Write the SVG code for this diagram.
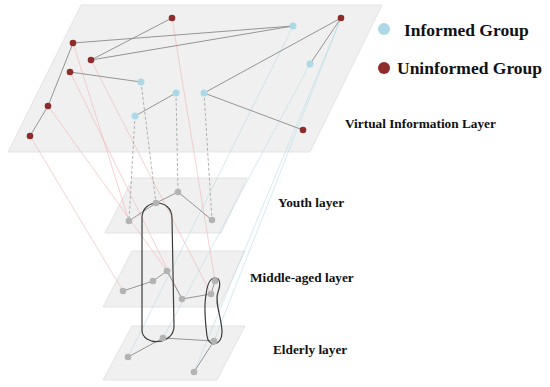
<svg xmlns="http://www.w3.org/2000/svg" width="550" height="387" viewBox="0 0 550 387">
<style>
.plane{fill:#f0f0f0;stroke:#dedede;stroke-width:0.8}
.edge{stroke:#8a8a8a;stroke-width:0.9;fill:none}
.dash{stroke:#a0a0a0;stroke-width:0.8;stroke-dasharray:3,2;fill:none}
.pink{stroke:#f2b4b4;stroke-width:0.6;fill:none}
.blue{stroke:#b5dde9;stroke-width:0.6;fill:none}
.loop{stroke:#3c3c3c;stroke-width:1.2;fill:none}
.red{fill:#8e2b2b}
.inf{fill:#add8e6}
.gray{fill:#b3b3b3}
.lbl{font-family:"Liberation Serif","Times New Roman",serif;font-weight:bold;fill:#111}
</style>
<g id="planes">
<polygon id="layer-virtual" class="plane" points="81,5 382,5 310,152 8,152"/>
<polygon id="layer-youth" class="plane" points="133,178 247,178 221,233 105,233"/>
<polygon id="layer-middle" class="plane" points="132,251 245,251 219,307 103,307"/>
<polygon id="layer-elderly" class="plane" points="132,326 245,326 217,380 103,380"/>
</g>
<g id="connectors">
<g id="interlayer">
<line class="pink" x1="30" y1="136" x2="123" y2="291"/>
<line class="pink" x1="48" y1="106" x2="167" y2="271"/>
<line class="pink" x1="70" y1="72" x2="182" y2="299"/>
<line class="pink" x1="73" y1="43" x2="129" y2="221"/>
<line class="pink" x1="91" y1="60" x2="211" y2="294"/>
<line class="pink" x1="172" y1="18" x2="215" y2="281"/>
<line class="blue" x1="293" y1="26" x2="128" y2="357"/>
<line class="blue" x1="310" y1="64" x2="163" y2="338"/>
<line class="blue" x1="341" y1="18" x2="194" y2="372"/>
<line class="blue" x1="341" y1="18" x2="214" y2="341"/>
<line class="dash" x1="135" y1="116" x2="129" y2="221"/>
<line class="dash" x1="141" y1="82" x2="156" y2="203"/>
<line class="dash" x1="176" y1="93" x2="178" y2="192"/>
<line class="dash" x1="204" y1="93" x2="212" y2="220"/>
</g>
<g id="virtual-edges">
<line class="edge" x1="73" y1="43" x2="293" y2="26"/>
<line class="edge" x1="91" y1="60" x2="172" y2="18"/>
<line class="edge" x1="91" y1="60" x2="293" y2="26"/>
<line class="edge" x1="73" y1="43" x2="48" y2="106"/>
<line class="edge" x1="48" y1="106" x2="30" y2="136"/>
<line class="edge" x1="70" y1="72" x2="141" y2="82"/>
<line class="edge" x1="135" y1="116" x2="176" y2="93"/>
<line class="edge" x1="204" y1="93" x2="341" y2="18"/>
<line class="edge" x1="341" y1="18" x2="310" y2="64"/>
<line class="edge" x1="204" y1="93" x2="303" y2="130"/>
</g>
<g id="youth-edges">
<polyline class="edge" points="129,221 156,203 178,192 212,220"/>
</g>
<g id="middle-edges">
<polyline class="edge" points="123,291 153,281 167,271 182,299 211,294 215,281"/>
</g>
<g id="elderly-edges">
<line class="edge" x1="163" y1="338" x2="128" y2="357"/>
<line class="edge" x1="163" y1="338" x2="214" y2="341"/>
<line class="edge" x1="214" y1="341" x2="194" y2="372"/>
</g>
</g>
<g id="groups">
<path id="loop-large" class="loop" d="M142,330 L142,218 C142,198 172,198 172,218 L174,326 C174,346 142,346 142,330 Z"/>
<path id="loop-small" class="loop" d="M215,278 C220,278 221,284 218,292 C214,302 222,318 222,332 C222,347 208,347 207,336 C205,320 204,305 206,295 C207,286 210,278 215,278 Z"/>
</g>
<g id="nodes-virtual">
<circle class="red" cx="172" cy="18" r="3.3"/>
<circle class="red" cx="73" cy="43" r="3.3"/>
<circle class="red" cx="91" cy="60" r="3.3"/>
<circle class="red" cx="70" cy="72" r="3.3"/>
<circle class="red" cx="48" cy="106" r="3.3"/>
<circle class="red" cx="30" cy="136" r="3.3"/>
<circle class="red" cx="341" cy="18" r="3.3"/>
<circle class="red" cx="303" cy="130" r="3.3"/>
<circle class="inf" cx="141" cy="82" r="3.5"/>
<circle class="inf" cx="176" cy="93" r="3.5"/>
<circle class="inf" cx="135" cy="116" r="3.5"/>
<circle class="inf" cx="293" cy="26" r="3.5"/>
<circle class="inf" cx="310" cy="64" r="3.5"/>
<circle class="inf" cx="204" cy="93" r="3.5"/>
</g>
<g id="nodes-youth">
<circle class="gray" cx="129" cy="221" r="3.3"/>
<circle class="gray" cx="156" cy="203" r="3.3"/>
<circle class="gray" cx="178" cy="192" r="3.3"/>
<circle class="gray" cx="212" cy="220" r="3.3"/>
</g>
<g id="nodes-middle">
<circle class="gray" cx="123" cy="291" r="3.3"/>
<circle class="gray" cx="153" cy="281" r="3.3"/>
<circle class="gray" cx="167" cy="271" r="3.3"/>
<circle class="gray" cx="182" cy="299" r="3.3"/>
<circle class="gray" cx="211" cy="294" r="3.3"/>
<circle class="gray" cx="215" cy="281" r="3.3"/>
</g>
<g id="nodes-elderly">
<circle class="gray" cx="163" cy="338" r="3.3"/>
<circle class="gray" cx="128" cy="357" r="3.3"/>
<circle class="gray" cx="214" cy="341" r="3.3"/>
<circle class="gray" cx="194" cy="372" r="3.3"/>
</g>
<g id="legend">
<circle class="inf" cx="384" cy="29" r="6"/>
<text class="lbl" x="404" y="36" font-size="17.5">Informed Group</text>
<circle class="red" cx="384" cy="68" r="6"/>
<text class="lbl" x="397" y="74" font-size="17.5">Uninformed Group</text>
</g>
<g id="layer-labels">
<text class="lbl" x="345" y="128" font-size="13.3">Virtual Information Layer</text>
<text class="lbl" x="278" y="207" font-size="13.3">Youth layer</text>
<text class="lbl" x="250" y="282" font-size="13.3">Middle-aged layer</text>
<text class="lbl" x="273" y="354" font-size="13.3">Elderly layer</text>
</g>
</svg>
